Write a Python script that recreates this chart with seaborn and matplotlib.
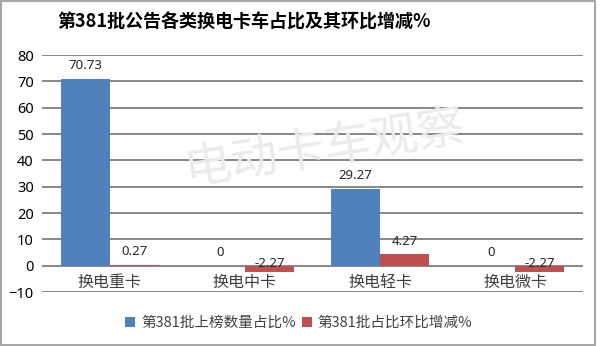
import matplotlib
matplotlib.use("Agg")
import matplotlib.pyplot as plt
import seaborn as sns
import pandas as pd
from matplotlib.patches import Patch, Rectangle

categories = ["换电重卡", "换电中卡", "换电轻卡", "换电微卡"]
share = [70.73, 0, 29.27, 0]
change = [0.27, -2.27, 4.27, -2.27]
series_names = ["第381批上榜数量占比%", "第381批占比环比增减%"]
title = "第381批公告各类换电卡车占比及其环比增减%"
watermark = "电动卡车观察"
yticks = list(range(-10, 81, 10))

sns.set_style("white")
plt.rcParams["font.family"] = ["Noto Sans CJK SC", "DejaVu Sans"]

colors = ["#4F81BD", "#C0504D"]

df = pd.DataFrame({
    "cat": categories * 2,
    "val": share + change,
    "series": [series_names[0]] * 4 + [series_names[1]] * 4,
})

fig = plt.figure(figsize=(6.0, 3.46), dpi=100)
ax = fig.add_axes([0.07, 0.156, 0.9017, 0.685])

sns.barplot(data=df, x="cat", y="val", hue="series", palette=colors,
            width=0.725, saturation=1, ax=ax, legend=False, zorder=3,
            linewidth=0, edgecolor="none")

ax.set_ylim(-10, 80)
ax.set_yticks(yticks)
ax.set_xlim(-0.5, 3.5)
ax.yaxis.grid(True, color="#878787", lw=1.4, zorder=0)
ax.set_axisbelow(True)
for s in ["left", "right", "top"]:
    ax.spines[s].set_visible(False)
ax.spines["bottom"].set_position(("data", 0))
ax.spines["bottom"].set_visible(False)
ax.tick_params(axis="x", length=0, pad=6, labelsize=11.5, labelcolor="#404040")
ax.tick_params(axis="y", length=0, pad=6, labelsize=10.5, labelcolor="#000000")
for lab in ax.get_yticklabels():
    lab.set_family(["Noto Sans", "DejaVu Sans"])
ax.set_xlabel("")
ax.set_ylabel("")

# data labels
for container, vals in zip(ax.containers, [share, change]):
    for bar, v in zip(container, vals):
        xc = bar.get_x() + bar.get_width() / 2
        top = max(v, 0)
        txt = f"{v:g}" if v != 0 else "0"
        if v < 0:
            ax.annotate(txt, (xc, 0), xytext=(0, -3), textcoords="offset points",
                        ha="center", va="bottom", fontsize=9.5,
                        family=["Noto Sans", "DejaVu Sans"], zorder=5)
        else:
            ax.annotate(txt, (xc, top), xytext=(0, 5), textcoords="offset points",
                        ha="center", va="bottom", fontsize=9.5,
                        family=["Noto Sans", "DejaVu Sans"], zorder=5)

# watermark
fig.text(0.54, 0.57, watermark, fontsize=34, color="#EBEBEB", rotation=9,
         ha="center", va="center", zorder=0)

# title
fig.text(0.095, 0.935, title, fontsize=13, fontweight="bold", ha="left",
         va="center", color="#000000")

# legend
handles = [Patch(facecolor=c, edgecolor="none") for c in colors]
fig.legend(handles, series_names, loc="center", bbox_to_anchor=(0.498, 0.066),
           ncol=2, frameon=False, fontsize=10.5, handlelength=0.7,
           handleheight=0.7, handletextpad=0.4, columnspacing=0.4,
           labelcolor="#404040")

# outer border
fig.patches.append(Rectangle((0.002, 0.003), 0.99, 0.994, transform=fig.transFigure,
                             fill=False, edgecolor="#A6A6A6", lw=1.5))

fig.savefig("out.png", dpi=100)
